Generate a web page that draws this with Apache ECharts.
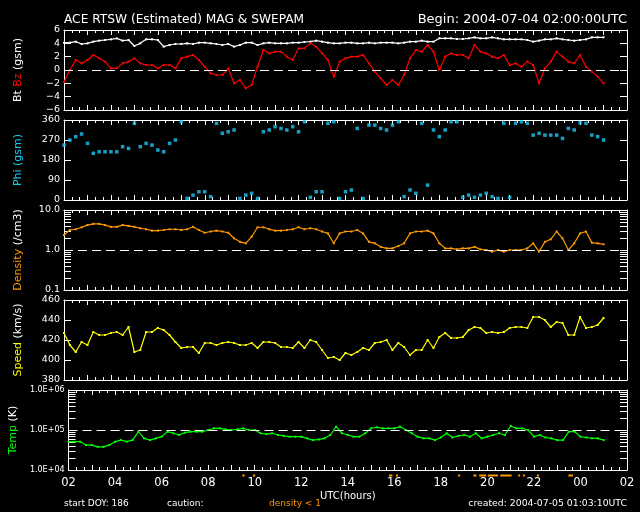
<!DOCTYPE html>
<html><head><meta charset="utf-8">
<script src="https://cdn.jsdelivr.net/npm/echarts@6/dist/echarts.min.js"></script>
<style>html,body{margin:0;padding:0;background:#000}#c{width:640px;height:512px}</style>
</head><body><div id="c"></div>
<script>
// time: hours since 02:00 UTC, sampled every 15 minutes
const startHour = 2;
const stepHours = 0.25;

const bt = [4.1,4.1,4.25,3.9, 4.0,4.25,4.4,4.5, 4.6,4.75,4.4,4.5, 3.6,4.0,4.6,4.6, 4.5,3.5,3.75,3.9,
  3.9,4.0,3.9,4.1, 4.1,4.0,3.9,3.75, 3.9,3.5,3.75,4.1, 4.1,3.75,4.0,4.1, 4.0,4.0,4.0,4.1, 4.1,4.2,4.25,4.4,
  4.25,4.1,4.0,4.0, 4.1,4.1,4.0,4.0, 4.1,4.0,4.1,4.1, 4.1,4.0,4.1,4.25, 4.25,4.4,4.25,4.25,
  4.75,4.75,4.75,4.65, 4.65,4.75,4.9,4.75, 4.75,4.9,4.75,4.6, 4.6,4.6,4.6,4.5, 4.25,4.4,4.6,4.6,
  4.75,4.6,4.5,4.4, 4.5,4.6,4.9,4.9, 4.9];

const bz = [-1.8,0.0,1.5,1.0, 1.5,2.25,1.75,1.25, 0.25,0.25,1.0,1.25, 1.75,1.0,0.75,0.75, 0.25,0.75,0.75,0.25,
  1.75,2.0,2.25,1.5, 0.5,-0.5,-0.75,-0.75, 0.25,-2.0,-1.5,-2.75, -2.25,0.5,3.0,2.5, 2.75,2.75,2.0,1.5,
  3.25,3.25,4.0,3.5, 2.5,1.5,-1.0,1.25, 1.75,2.0,2.0,2.25, 1.0,-0.25,-1.25,-2.25, -1.5,-2.25,-0.75,1.75,
  3.0,2.75,3.75,2.75, 0.0,2.0,2.5,2.25, 2.25,1.75,3.75,2.75, 2.5,2.0,1.75,2.25, 0.75,1.0,0.5,1.25,
  0.75,-2.0,0.25,1.25, 2.75,2.0,1.25,1.0, 2.25,0.5,-0.25,-1.0, -2.0];

const phi = [247,270,285,297, 255,210,217,217, 217,217,240,232, 345,240,255,247, 225,217,255,270,
  352,7,22,37, 37,15,345,300, 307,315,7,22, 30,7,307,315, 330,322,315,330, 307,352,12,37,
  37,345,352,7, 37,45,322,7, 337,337,322,315, 337,352,15,45, 30,345,67,315, 285,315,352,352,
  12,22,12,22, 30,15,7,345, 12,345,352,345, 292,300,292,292, 292,277,322,315, 348,345,292,285, 270];

const density = [2.37,3.16,3.3,3.7, 4.2,4.5,4.5,4.2, 3.8,3.8,4.2,4.0, 3.8,3.5,3.3,3.05, 3.05,3.16,3.3,3.3,
  3.16,3.3,3.8,3.16, 2.7,2.9,3.05,2.9, 2.7,1.96,1.6,1.47, 2.15,3.7,3.7,3.3, 3.05,3.05,3.16,3.3,
  3.7,3.3,3.5,3.3, 2.9,2.6,1.47,2.6, 2.9,2.9,3.16,2.6, 1.6,1.47,1.2,1.1, 1.1,1.26,1.47,2.6,
  2.9,2.9,3.05,2.6, 1.47,1.1,1.1,1.04, 1.1,1.1,1.2,1.04, 1.0,0.91,1.0,0.91, 1.0,1.0,1.0,1.1,
  1.47,0.91,1.6,1.85, 2.9,1.96,1.0,1.47, 2.6,2.9,1.53,1.47, 1.39];

const speed = [427,415,408,418, 415,428,425,425, 427,428,425,433, 408,410,428,428, 432,430,425,418,
  412,413,413,407, 417,417,415,417, 418,417,415,415, 417,412,418,418, 417,413,413,412,
  418,412,420,418, 410,402,403,400, 407,405,408,412, 410,417,418,420, 410,417,413,405,
  410,410,420,412, 423,427,422,422, 423,430,433,432, 427,428,427,428, 432,433,433,432,
  443,443,440,433, 438,437,425,425, 443,432,433,435, 442];

const temp = [51000,51000,51000,42000, 42000,38000,38000,42000, 51000,56000,51000,56000, 91000,62000,56000,62000,
  68000,91000,83000,75000, 86000,91000,91000,91000, 100000,110000,110000,104000, 100000,104000,110000,100000,
  100000,83000,79000,83000, 75000,71000,68000,68000, 68000,62000,56000,58000, 62000,75000,121000,83000,
  75000,68000,68000,83000, 110000,117000,110000,110000, 110000,121000,100000,83000, 68000,62000,62000,56000,
  65000,83000,65000,71000, 75000,68000,83000,62000, 68000,75000,83000,75000, 126000,110000,110000,100000,
  68000,75000,65000,62000, 56000,56000,91000,91000, 68000,65000,62000,62000, 56000];

// caution: density < 1 intervals [start, end] in hours since 02:00
const cautionSpans = [[7.6,7.7],[8.05,8.15],[13.85,14.0],[14.15,14.22],[16.8,16.88],[17.45,17.58],
  [17.7,18.0],[18.07,18.5],[18.6,19.08],[19.36,19.44],[19.56,19.65],[20.16,20.25],[21.5,21.7]];

const densityTickValues = [0.1,0.2,0.3,0.4,0.5,0.6,0.7,0.8,0.9,1,2,3,4,5,6,7,8,9,10];
const tempTickValues = [1e4,2e4,3e4,4e4,5e4,6e4,7e4,8e4,9e4,1e5,2e5,3e5,4e5,5e5,6e5,7e5,8e5,9e5,1e6];

const WHITE = '#ffffff', RED = '#ff0000', CYAN = '#1ec8f5', ORANGE = '#ff9900', YELLOW = '#ffff00', GREEN = '#00ff00';
const FONT = 'DejaVu Sans';

const tOf = i => i * stepHours;
const pts = arr => arr.map((v, i) => [tOf(i), v]);
const logPts = arr => arr.map((v, i) => [tOf(i), Math.log10(v)]);

const tops = [30, 120, 210, 300, 390];
const grids = tops.map(t => ({ left: 64, top: t, width: 563, height: 80 }));
grids.push({ left: 64, top: 473, width: 563, height: 5 });

function xAx(i, pos, labels) {
  const a = {
    type: 'value', gridIndex: i, min: 0, max: 24, interval: 1, position: pos,
    axisLine: { show: true, onZero: false, lineStyle: { color: WHITE, width: 1 } },
    axisTick: { show: true, inside: true, length: 5, lineStyle: { color: WHITE } },
    minorTick: { show: true, splitNumber: 3, length: 3, lineStyle: { color: WHITE } },
    splitLine: { show: false },
    axisLabel: {
      show: labels, color: WHITE, fontFamily: FONT, fontSize: 11.5, margin: 7,
      formatter: v => (v % 2 === 0) ? String((startHour + v) % 24).padStart(2, '0') : ''
    }
  };
  if (labels) {
    a.name = 'UTC(hours)'; a.nameLocation = 'middle'; a.nameGap = 21;
    a.nameTextStyle = { color: WHITE, fontFamily: FONT, fontSize: 10 };
  }
  return a;
}
const xAxes = [];
for (let i = 0; i < 5; i++) { xAxes.push(xAx(i, 'bottom', i === 4)); xAxes.push(xAx(i, 'top', false)); }
xAxes.push({ type: 'value', gridIndex: 5, min: 0, max: 24, show: false });

function yAx(i, pos, cfg) {
  const a = {
    type: 'value', gridIndex: i, position: pos, min: cfg.min, max: cfg.max, interval: cfg.interval,
    axisLine: { show: true, onZero: false, lineStyle: { color: WHITE, width: 1 } },
    axisTick: { show: true, inside: true, length: 7, lineStyle: { color: WHITE } },
    splitLine: { show: false },
    axisLabel: { show: pos === 'left', color: WHITE, fontFamily: FONT, fontSize: cfg.fs || 9.5, margin: 4, formatter: cfg.fmt }
  };
  if (cfg.ticks) a.axisTick.customValues = cfg.ticks;
  if (pos === 'left' && cfg.name) {
    a.name = cfg.name; a.nameLocation = 'middle'; a.nameRotate = 90; a.nameGap = 40;
    a.nameTextStyle = { fontFamily: FONT, fontSize: 11, rich: cfg.rich };
  }
  return a;
}
const rich = (c1, c2) => ({ a: { color: c1, fontFamily: FONT, fontSize: 11 }, b: { color: c2, fontFamily: FONT, fontSize: 11 }, r: { color: RED, fontFamily: FONT, fontSize: 11 } });
const yCfg = [
  { min: -6, max: 6, interval: 2, fmt: v => String(v).replace('-', '\u2212'), name: '{a|Bt} {r|Bz} {a|(gsm)}', rich: rich(WHITE, WHITE) },
  { min: 0, max: 360, interval: 90, fmt: v => String(v), name: '{a|Phi (gsm)}', rich: rich(CYAN, CYAN) },
  { min: -1, max: 1, interval: 1, fmt: v => Math.pow(10, v).toFixed(1), ticks: densityTickValues.map(Math.log10), name: '{a|Density} {b|(/cm3)}', rich: rich(ORANGE, WHITE) },
  { min: 380, max: 460, interval: 20, fmt: v => String(v), name: '{a|Speed} {b|(km/s)}', rich: rich(YELLOW, WHITE) },
  { min: 4, max: 6, interval: 1, fs: 8, fmt: v => '1.0E+0' + v, ticks: tempTickValues.map(Math.log10), name: '{a|Temp} {b|(K)}', rich: rich(GREEN, WHITE) }
];
const yAxes = [];
for (let i = 0; i < 5; i++) { yAxes.push(yAx(i, 'left', yCfg[i])); yAxes.push(yAx(i, 'right', yCfg[i])); }
yAxes.push({ type: 'value', gridIndex: 5, min: -1, max: 1, show: false });

const dashLine = v => ({
  silent: true, symbol: 'none', animation: false,
  label: { show: false },
  lineStyle: { color: WHITE, type: [9, 5], width: 1 },
  data: [{ yAxis: v }]
});
const lineSeries = (data, xi, color, extra) => Object.assign({
  type: 'line', xAxisIndex: xi, yAxisIndex: xi, data: data,
  showSymbol: true, symbol: 'rect', symbolSize: 2,
  lineStyle: { color: color, width: 1.2 }, itemStyle: { color: color, borderWidth: 0 },
  z: 3
}, extra || {});

const series = [
  lineSeries(pts(bt), 0, WHITE),
  lineSeries(pts(bz), 0, RED, { markLine: dashLine(0) }),
  { type: 'scatter', xAxisIndex: 2, yAxisIndex: 2, data: pts(phi), symbol: 'rect', symbolSize: 3.5, itemStyle: { color: CYAN } },
  lineSeries(logPts(density), 4, ORANGE, { markLine: dashLine(0) }),
  lineSeries(pts(speed), 6, YELLOW),
  lineSeries(logPts(temp), 8, GREEN, { markLine: dashLine(5) }),
  {
    type: 'custom', xAxisIndex: 10, yAxisIndex: 10, data: cautionSpans,
    encode: { x: [0, 1] },
    renderItem: (params, api) => {
      const s = api.coord([api.value(0), 0]);
      const e = api.coord([api.value(1), 0]);
      return { type: 'rect', shape: { x: s[0], y: s[1] - 1, width: Math.max(e[0] - s[0], 2), height: 2 }, style: { fill: ORANGE } };
    }
  }
];

const txt = (x, y, text, color, size, align) => ({
  type: 'text', x: x, y: y,
  style: { text: text, fill: color, font: size + 'px "' + FONT + '"', textAlign: align || 'left', textVerticalAlign: 'middle' }
});

const chart = echarts.init(document.getElementById('c'));
chart.setOption({
  backgroundColor: '#000',
  animation: false,
  grid: grids,
  xAxis: xAxes,
  yAxis: yAxes,
  series: series,
  graphic: [
    txt(64, 20, 'ACE RTSW (Estimated) MAG & SWEPAM', WHITE, 12.2),
    txt(627, 20, 'Begin: 2004-07-04 02:00:00UTC', WHITE, 13, 'right'),
    txt(64, 504, 'start DOY: 186', WHITE, 9),
    txt(167, 504, 'caution:', WHITE, 9),
    txt(269, 504, 'density < 1', ORANGE, 9),
    txt(627, 504, 'created: 2004-07-05 01:03:10UTC', WHITE, 9.3, 'right')
  ]
});
</script>
</body></html>
